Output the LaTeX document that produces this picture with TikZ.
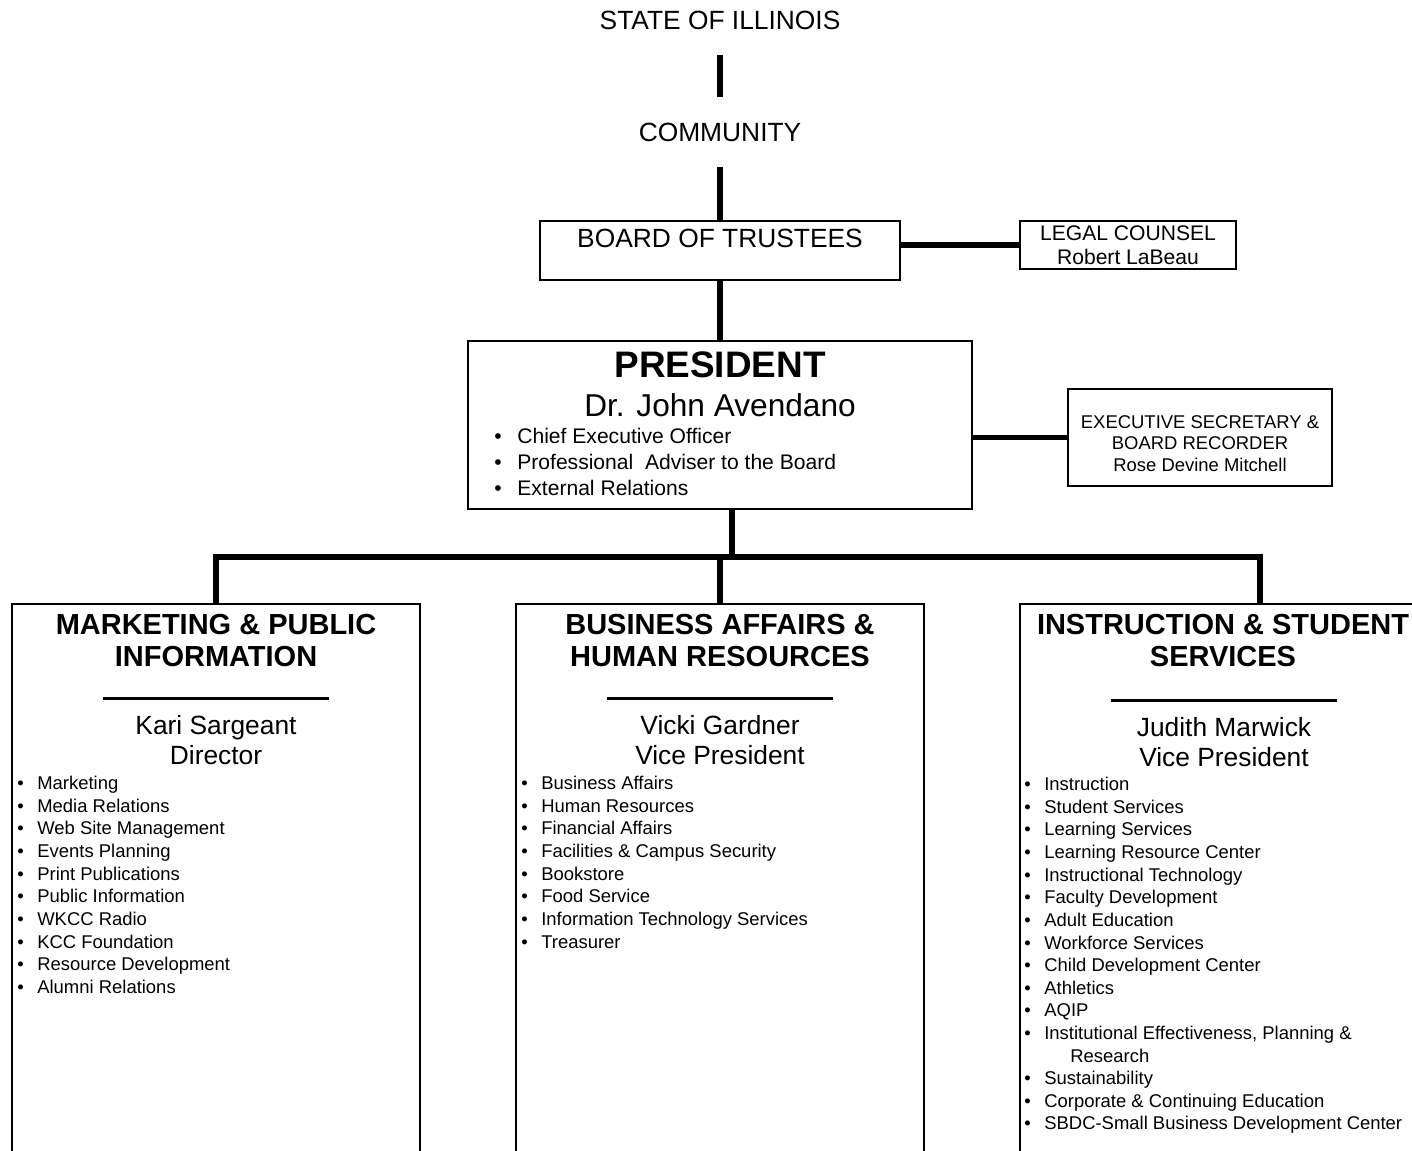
\documentclass[tikz,border=0pt]{standalone}
\usepackage{fontspec}
\setmainfont{Liberation Sans}
\newcommand{\bul}[1][0.4cm]{\makebox[#1][l]{\textbullet}}

\begin{document}
\begin{tikzpicture}[x=0.02cm, y=0.02cm]
\tikzstyle{every node}+=[inner sep=0pt]
\tikzstyle{box}=[draw, line width=0.8pt]
\tikzstyle{link}=[line width=3pt]
\tikzstyle{namerule}=[line width=1.7pt]
\tikzstyle{toplbl}=[font=\fontsize{15}{17}\selectfont, minimum height=40pt]
\tikzstyle{hdr}=[align=center, font=\bfseries\fontsize{16.5}{18.7}\selectfont]
\tikzstyle{who}=[align=center, font=\fontsize{15}{17}\selectfont]
\tikzstyle{items}=[align=left, anchor=north west, font=\fontsize{10.5}{12.87}\selectfont]
\useasboundingbox (0,0) rectangle (1412,-1150);
\clip (0,0) rectangle (1412,-1150);
% state, community, board
\node [toplbl] (state) at (720,-20) {STATE OF ILLINOIS};
\node [toplbl] (comm) at (720,-132) {COMMUNITY};
\node [box, minimum width=7.2cm, minimum height=1.18cm] (board) at (720,-250.5) {};
\node [font=\fontsize{15}{17}\selectfont] (boardlbl) at (720,-238) {BOARD OF TRUSTEES};
\node [box, minimum width=4.32cm, minimum height=0.96cm, align=center, font=\fontsize{12}{13.6}\selectfont] (legal) at (1128,-245) {LEGAL COUNSEL\\Robert LaBeau};
% president
\node [box, minimum width=10.08cm, minimum height=3.36cm] (pres) at (720,-425) {};
\node [font=\bfseries\fontsize{21}{24}\selectfont] (prestitle) at (720,-365) {PRESIDENT};
\node [font=\fontsize{18}{20}\selectfont] (presname) at (720,-405) {Dr. John Avendano};
\node [items, font=\fontsize{12}{14.7}\selectfont] (presduty) at (494,-428) {\bul[0.46cm]Chief Executive Officer\\\bul[0.46cm]Professional \ Adviser to the Board\\\bul[0.46cm]External Relations};
\node [box, minimum width=5.28cm, minimum height=1.94cm] (exec) at (1200,-437.5) {};
\node [align=center, font=\fontsize{10.5}{12.2}\selectfont] (execlbl) at (1200,-443.5) {EXECUTIVE SECRETARY \&\\BOARD RECORDER\\Rose Devine Mitchell};
% marketing
\node [box, minimum width=8.16cm, minimum height=11.92cm] (mkt) at (216,-902) {};
\node [hdr] (mkthdr) at (216,-640.5) {MARKETING \& PUBLIC\\INFORMATION};
\draw [namerule] (103,-698) -- (329,-698);
\node [who] (mktwho) at (216,-740) {Kari Sargeant\\Director};
\node [items] (mktlist) at (17,-776) {\bul Marketing\\\bul Media Relations\\\bul Web Site Management\\\bul Events Planning\\\bul Print Publications\\\bul Public Information\\\bul WKCC Radio\\\bul KCC Foundation\\\bul Resource Development\\\bul Alumni Relations};
% business affairs
\node [box, minimum width=8.16cm, minimum height=11.92cm] (bus) at (720,-902) {};
\node [hdr] (bushdr) at (720,-640.5) {BUSINESS AFFAIRS \&\\HUMAN RESOURCES};
\draw [namerule] (607,-698) -- (833,-698);
\node [who] (buswho) at (720,-740) {Vicki Gardner\\Vice President};
\node [items] (buslist) at (521,-776) {\bul Business Affairs\\\bul Human Resources\\\bul Financial Affairs\\\bul Facilities \& Campus Security\\\bul Bookstore\\\bul Food Service\\\bul Information Technology Services\\\bul Treasurer};
% instruction
\node [box, minimum width=8.16cm, minimum height=11.92cm] (svc) at (1224,-902) {};
\node [hdr] (svchdr) at (1223,-640.5) {INSTRUCTION \& STUDENT\\SERVICES};
\draw [namerule] (1111,-700) -- (1337,-700);
\node [who] (svcwho) at (1224,-742) {Judith Marwick\\Vice President};
\node [items] (svclist) at (1024,-777) {\bul Instruction\\\bul Student Services\\\bul Learning Services\\\bul Learning Resource Center\\\bul Instructional Technology\\\bul Faculty Development\\\bul Adult Education\\\bul Workforce Services\\\bul Child Development Center\\\bul Athletics\\\bul AQIP\\\bul Institutional Effectiveness, Planning \&\\\hspace*{0.92cm}Research\\\bul Sustainability\\\bul Corporate \& Continuing Education\\\bul SBDC-Small Business Development Center};
% connectors
\draw [link] (state.south) -- (comm.north);
\draw [link] (comm.south) -- (board.north);
\draw [link] (board.south) -- (pres.north);
\draw [link] (board.east |- legal.west) -- (legal.west);
\draw [link] (pres.east |- exec.west) -- (exec.west);
\coordinate (fork) at (732,-557);
\coordinate (svcdrop) at (1260,-604);
\draw [link] (pres.south -| fork) -- (fork);
\draw [link] (mkt.north) |- (fork) -| (svcdrop);
\draw [link] (bus.north) -- (bus.north |- fork);
\end{tikzpicture}
\end{document}
